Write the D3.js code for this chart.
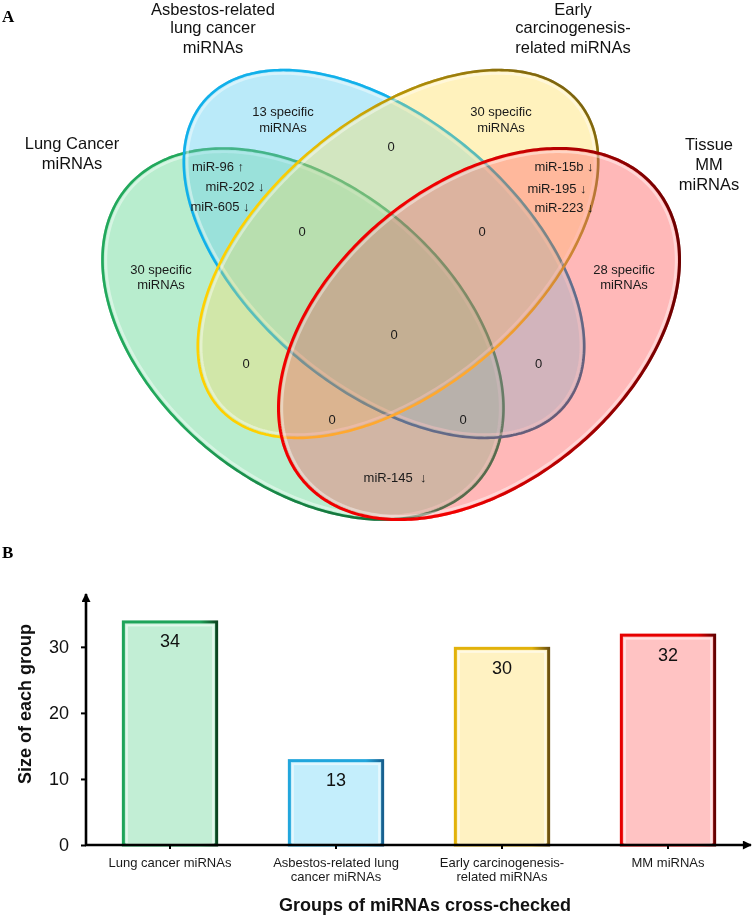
<!DOCTYPE html>
<html><head><meta charset="utf-8">
<script src="https://cdn.jsdelivr.net/npm/d3@7"></script>
<style>
body{margin:0;background:#fff;}
svg{display:block;font-family:Arial,"Liberation Sans",Helvetica,sans-serif;}
</style></head><body>
<svg id="chart" width="752" height="916"></svg>
<script>
// ================= DATA =================
// Venn: set names (lines of each label)
const vennSetNames = [
  ["Lung Cancer", "miRNAs"],
  ["Asbestos-related", "lung cancer", "miRNAs"],
  ["Early", "carcinogenesis-", "related miRNAs"],
  ["Tissue", "MM", "miRNAs"]
];
// Venn regions (G = lung cancer, B = asbestos, Y = early carcinogenesis, R = tissue MM)
const vennRegionKeys = ["B", "Y", "G", "R", "BY", "GB", "YR", "GBY", "BYR", "GBYR", "GY", "BR", "GYR", "GBR", "GR"];
const vennRegionTexts = [
  ["13 specific", "miRNAs"],
  ["30 specific", "miRNAs"],
  ["30 specific", "miRNAs"],
  ["28 specific", "miRNAs"],
  ["0"],
  ["miR-96 \u2191", "miR-202 \u2193", "miR-605 \u2193"],
  ["miR-15b \u2193", "miR-195 \u2193", "miR-223 \u2193"],
  ["0"], ["0"], ["0"], ["0"], ["0"], ["0"], ["0"],
  ["miR-145  \u2193"]
];
// Bar chart
const barCategories = ["Lung cancer miRNAs", "Asbestos-related lung cancer miRNAs", "Early carcinogenesis-related miRNAs", "MM miRNAs"];
const barTickLines = [["Lung cancer miRNAs"], ["Asbestos-related lung", "cancer miRNAs"], ["Early carcinogenesis-", "related miRNAs"], ["MM miRNAs"]];
const barValues = [34, 13, 30, 32];
const yTickValues = [0, 10, 20, 30];

// ================= LAYOUT / STYLE =================
const svg = d3.select("#chart");
const defs = svg.append("defs");

// single-region colours (over white), and stroke gradients
const vennStyle = [
  {fill: "#c4f0d6", s0: "#22a85c", s1: "#0b5a2a", g: [0,0,1,1], sw: 2.6},   // green
  {fill: "#c6eefa", s0: "#12b0ea", s1: "#27406f", g: [0,0,1,1], sw: 2.6},   // blue
  {fill: "#fff4c8", s0: "#ffd000", s1: "#6b5510", g: [0,1,1,0], sw: 2.6},   // yellow
  {fill: "#ffc4c4", s0: "#f00000", s1: "#6e0000", g: [0,0.5,1,0.5], sw: 3}  // red
];
const vennGeom = [
  {cx: 303, cy: 334, a: 229, b: 149, rot: 39.5},
  {cx: 384, cy: 254, a: 236, b: 135, rot: 40.2},
  {cx: 398, cy: 254, a: 236, b: 135, rot: -40.2},
  {cx: 479, cy: 334, a: 229, b: 149, rot: -39.5}
];
const setLabelX = [72, 213, 573, 709];
const setLabelY = [[143.5, 163.5], [9.3, 27.2, 47.2], [9.3, 27.2, 47.2], [144, 164, 184]];
const regionPos = {
  B: [[283, 111], [283, 127]],
  Y: [[501, 111], [501, 127]],
  G: [[161, 269], [161, 284.5]],
  R: [[624, 269], [624, 284.5]],
  BY: [[391, 146]],
  GB: [[218, 166.7], [235, 186], [220, 206.7]],
  YR: [[564, 166.7], [557, 188], [564, 207.3]],
  GBY: [[302, 231]],
  BYR: [[482, 231]],
  GBYR: [[394, 334]],
  GY: [[246, 363]],
  BR: [[538.5, 363]],
  GYR: [[332, 419.5]],
  GBR: [[463, 419.5]],
  GR: [[395, 477]]
};

const ellipsePts = (e, inset) => {
  const pts = [], th = e.rot * Math.PI / 180;
  for (let i = 0; i < 360; i++) {
    const t = i * Math.PI / 180;
    const u = (e.a - inset) * Math.cos(t), v = (e.b - inset) * Math.sin(t);
    pts.push([e.cx + u * Math.cos(th) - v * Math.sin(th), e.cy + u * Math.sin(th) + v * Math.cos(th)]);
  }
  return pts;
};
const closedLine = d3.line().curve(d3.curveLinearClosed);

vennStyle.forEach((s, i) => {
  const lg = defs.append("linearGradient").attr("id", "vg" + i)
    .attr("x1", s.g[0]).attr("y1", s.g[1]).attr("x2", s.g[2]).attr("y2", s.g[3]);
  lg.append("stop").attr("offset", 0).attr("stop-color", s.s0);
  lg.append("stop").attr("offset", 0.45).attr("stop-color", s.s0);
  lg.append("stop").attr("offset", 1).attr("stop-color", s.s1);
});

// colour for normal alpha blending giving the same single-region colour
const ALPHA = 0.6;
const alphaColor = hex => {
  const c = d3.rgb(hex);
  return d3.rgb(255 - (255 - c.r) / ALPHA, 255 - (255 - c.g) / ALPHA, 255 - (255 - c.b) / ALPHA).formatHex();
};

const drawVenn = (g, mode) => {
  vennGeom.forEach((e, i) => {
    const s = vennStyle[i];
    const f = g.append("path").attr("d", closedLine(ellipsePts(e, 0)));
    if (mode === "multiply") f.attr("fill", s.fill).style("mix-blend-mode", "multiply");
    else f.attr("fill", alphaColor(s.fill)).attr("fill-opacity", ALPHA);
    g.append("path").attr("d", closedLine(ellipsePts(e, 3.5)))
      .attr("fill", "none").attr("stroke", "#fff").attr("stroke-opacity", 0.4).attr("stroke-width", 2.5);
    g.append("path").attr("d", closedLine(ellipsePts(e, 0)))
      .attr("fill", "none").attr("stroke", "url(#vg" + i + ")").attr("stroke-width", s.sw);
  });
};
const venn = svg.append("g");
drawVenn(venn.append("g"), "multiply");
drawVenn(venn.append("g").attr("opacity", 0.5).style("isolation", "isolate"), "normal");

// region labels
vennRegionKeys.forEach((k, i) => {
  vennRegionTexts[i].forEach((line, j) => {
    const p = regionPos[k][j];
    venn.append("text").attr("x", p[0]).attr("y", p[1]).attr("dy", "0.35em")
      .attr("text-anchor", "middle").attr("font-size", 13).attr("fill", "#1a1a1a")
      .style("white-space", "pre").text(line);
  });
});
// set labels
vennSetNames.forEach((lines, i) => {
  lines.forEach((line, j) => {
    venn.append("text").attr("x", setLabelX[i]).attr("y", setLabelY[i][j])
      .attr("dy", "0.35em").attr("text-anchor", "middle").attr("font-size", 16.5)
      .attr("fill", "#111").text(line);
  });
});

// panel letters
svg.append("text").attr("x", 2).attr("y", 22).attr("font-family", "'Liberation Serif','Times New Roman',serif")
  .attr("font-weight", "bold").attr("font-size", 17).text("A");
svg.append("text").attr("x", 2).attr("y", 558).attr("font-family", "'Liberation Serif','Times New Roman',serif")
  .attr("font-weight", "bold").attr("font-size", 17).text("B");

// ================= BAR CHART =================
const x0 = 86, y0 = 845;
const x = d3.scaleBand().domain(barCategories).range([87, 751]).paddingInner(0.42).paddingOuter(0.21);
const y = d3.scaleLinear().domain([0, 38]).range([y0, 594]);

const barStyle = [
  {fill: "#c2eed5", s0: "#1fa45a", s1: "#0a4520"},
  {fill: "#c4eefc", s0: "#22a6dc", s1: "#17608f"},
  {fill: "#fff2c2", s0: "#e2b20a", s1: "#6e5210"},
  {fill: "#ffc3c3", s0: "#e60000", s1: "#650000"}
];
barStyle.forEach((s, i) => {
  const lg = defs.append("linearGradient").attr("id", "bg" + i).attr("x1", 0).attr("y1", 0).attr("x2", 1).attr("y2", 0);
  lg.append("stop").attr("offset", 0).attr("stop-color", s.s0);
  lg.append("stop").attr("offset", 0.82).attr("stop-color", s.s0);
  lg.append("stop").attr("offset", 1).attr("stop-color", s.s1);
});

const bars = svg.append("g");
bars.selectAll("rect.bar").data(barValues).join("rect").attr("class", "bar")
  .attr("x", (d, i) => x(barCategories[i]) + 1.5)
  .attr("y", d => y(d) + 1.5)
  .attr("width", x.bandwidth() - 3)
  .attr("height", d => y0 - y(d) - 1.5)
  .attr("fill", (d, i) => barStyle[i].fill)
  .attr("stroke", (d, i) => "url(#bg" + i + ")")
  .attr("stroke-width", 3);
bars.selectAll("rect.hl").data(barValues).join("rect").attr("class", "hl")
  .attr("x", (d, i) => x(barCategories[i]) + 5)
  .attr("y", d => y(d) + 5)
  .attr("width", x.bandwidth() - 10)
  .attr("height", d => y0 - y(d) - 6)
  .attr("fill", "none").attr("stroke", "#fff").attr("stroke-opacity", 0.55).attr("stroke-width", 2);
bars.selectAll("text.val").data(barValues).join("text").attr("class", "val")
  .attr("x", (d, i) => x(barCategories[i]) + x.bandwidth() / 2)
  .attr("y", d => y(d) + 27)
  .attr("text-anchor", "middle").attr("font-size", 18).attr("fill", "#111")
  .text(d => d);

// arrow markers
defs.append("marker").attr("id", "arrow").attr("viewBox", "0 0 10 10").attr("refX", 9).attr("refY", 5)
  .attr("markerWidth", 10).attr("markerHeight", 9).attr("markerUnits", "userSpaceOnUse").attr("orient", "auto")
  .append("path").attr("d", "M0,0L10,5L0,10Z").attr("fill", "#000");

// y axis
const yAxis = svg.append("g").attr("transform", `translate(${x0},0)`)
  .call(d3.axisLeft(y).tickValues(yTickValues).tickSize(5).tickPadding(12).tickSizeOuter(0));
yAxis.select(".domain").remove();
yAxis.selectAll(".tick line").attr("stroke", "#000").attr("stroke-width", 2);
yAxis.selectAll(".tick text").attr("font-size", 18).attr("font-family", "Arial,'Liberation Sans',sans-serif").attr("fill", "#111");
svg.append("line").attr("x1", x0).attr("y1", y0 + 1).attr("x2", x0).attr("y2", y.range()[1])
  .attr("stroke", "#000").attr("stroke-width", 2.6).attr("marker-end", "url(#arrow)");

// x axis
const xAxis = svg.append("g").attr("transform", `translate(0,${y0})`)
  .call(d3.axisBottom(x).tickSize(4).tickSizeOuter(0).tickFormat(""));
xAxis.select(".domain").remove();
xAxis.selectAll(".tick line").attr("stroke", "#000").attr("stroke-width", 2);
svg.append("line").attr("x1", x0 - 1).attr("y1", y0).attr("x2", 751).attr("y2", y0)
  .attr("stroke", "#000").attr("stroke-width", 2.6).attr("marker-end", "url(#arrow)");

// category labels
barTickLines.forEach((lines, i) => {
  lines.forEach((line, j) => {
    svg.append("text").attr("x", x(barCategories[i]) + x.bandwidth() / 2).attr("y", y0 + 21.5 + j * 14.5)
      .attr("text-anchor", "middle").attr("font-size", 13).attr("fill", "#1a1a1a").text(line);
  });
});

// axis titles
svg.append("text").attr("x", 425).attr("y", 911).attr("text-anchor", "middle")
  .attr("font-size", 18).attr("font-weight", "bold").attr("fill", "#111").text("Groups of miRNAs cross-checked");
svg.append("text").attr("transform", "translate(31,704) rotate(-90)").attr("text-anchor", "middle")
  .attr("font-size", 18).attr("font-weight", "bold").attr("fill", "#111").text("Size of each group");
</script>
</body></html>
